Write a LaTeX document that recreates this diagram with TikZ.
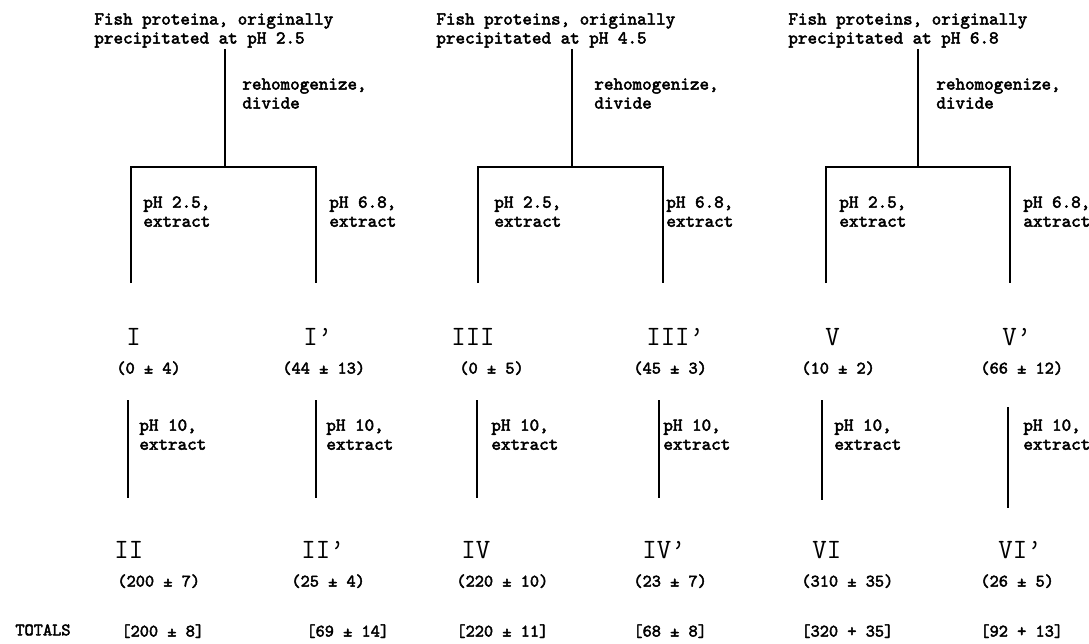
\documentclass[tikz,border=0pt]{standalone}
\usepackage{fontspec}
\newfontfamily\typew{lmmono10-regular.otf}[FakeBold=2.6]
\usetikzlibrary{positioning}

\tikzset{
  txt/.style={font=\typew\fontsize{18.2}{19}\selectfont,align=left},
  roman/.style={font=\ttfamily\fontsize{28}{28}\selectfont},
  val/.style={font=\typew\fontsize{17.5}{18}\selectfont}
}

\begin{document}
\begin{tikzpicture}
    [x=1pt,y=-1pt,line width=2.8pt,every node/.style={inner sep=0pt,anchor=north west}]
    \useasboundingbox (0,0) rectangle (1089,643);
    % starting material
    \node[txt] (fish1) at (93,12)  {Fish proteina, originally\\precipitated at pH 2.5};
    \node[txt] (fish2) at (435,12) {Fish proteins, originally\\precipitated at pH 4.5};
    \node[txt] (fish3) at (787,12) {Fish proteins, originally\\precipitated at pH 6.8};
    % divide and first extraction
    \foreach \c/\s/\h/\l/\r in {1/225/241/131/316,2/572/593/478/663,3/918/935/826/1010} {
      \coordinate (j\c) at (\s,167);
      \coordinate (a\c) at (\l,167);
      \coordinate (b\c) at (\r,167);
      \coordinate (ea\c) at (\l,283);
      \coordinate (eb\c) at (\r,283);
      \node[txt] (rh\c) at (\h,77) {rehomogenize,\\divide};
      \draw (fish\c.south -| j\c) -- (j\c);
      \draw (ea\c) -- (a\c) -- (b\c) -- (eb\c);
    }
    \node[txt] (pa1) at (142,195)  {pH 2.5,\\extract};
    \node[txt] (pb1) at (328,195)  {pH 6.8,\\extract};
    \node[txt] (pa2) at (493,195)  {pH 2.5,\\extract};
    \node[txt] (pb2) at (665,195)  {pH 6.8,\\extract};
    \node[txt] (pa3) at (838,195)  {pH 2.5,\\extract};
    \node[txt] (pb3) at (1022,195) {pH 6.8,\\axtract};
    % first extracts
    \foreach \n/\rn/\rx/\vl/\vx in {1/I/125/{(0 ± 4)}/115,1p/{I’}/302/{(44 ± 13)}/281,
        3/III/450/{(0 ± 5)}/458,3p/{III’}/645/{(45 ± 3)}/632,
        5/V/824/{(10 ± 2)}/800,5p/{V’}/1001/{(66 ± 12)}/979} {
      \node[roman] (r\n) at (\rx,327) {\rn};
      \node[val] (v\n) at (\vx,360) {\vl};
    }
    % pH 10 extraction
    \foreach \n/\x/\t/\b/\lx in {1/128/400/498/138,1p/316/400/498/325,3/477/400/498/490,
        3p/659/400/498/662,5/822/400/500/833,5p/1008/407/508/1022} {
      \coordinate (u\n) at (\x,\t);
      \coordinate (d\n) at (\x,\b);
      \draw (u\n) -- (d\n);
      \node[txt] (ph\n) at (\lx,418) {pH 10,\\extract};
    }
    % second extracts and totals
    \foreach \n/\rn/\rx/\vl/\vx/\tl/\tx in {2/II/113/{(200 ± 7)}/116/{[200 ± 8]}/120,
        2p/{II’}/300/{(25 ± 4)}/290/{[69 ± 14]}/305,
        4/IV/460/{(220 ± 10)}/455/{[220 ± 11]}/455,
        4p/{IV’}/641/{(23 ± 7)}/632/{[68 ± 8]}/632,
        6/VI/811/{(310 ± 35)}/800/{[320 + 35]}/800,
        6p/{VI’}/997/{(26 ± 5)}/979/{[92 + 13]}/979} {
      \node[roman] (r\n) at (\rx,540) {\rn};
      \node[val] (v\n) at (\vx,573) {\vl};
      \node[val] (t\n) at (\tx,623) {\tl};
    }
    \node[val] (totals) at (14,623) {TOTALS};
\end{tikzpicture}
\end{document}
